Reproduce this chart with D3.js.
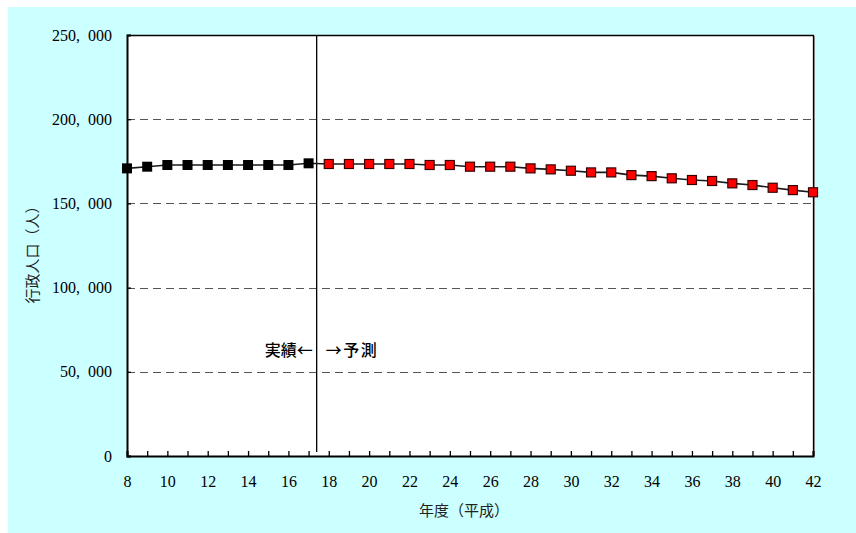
<!DOCTYPE html>
<html>
<head>
<meta charset="utf-8">
<script src="https://cdn.jsdelivr.net/npm/d3@7/dist/d3.min.js"></script>
<style>
  html, body { margin: 0; padding: 0; background: #ffffff; }
  svg { display: block; }
</style>
</head>
<body>
<script>
// 年度（平成）and 行政人口（人）: 実績 H8–H17, 予測 H18–H42
const years = d3.range(8, 43);
const actualYears = [8, 9, 10, 11, 12, 13, 14, 15, 16, 17];
const actualValues = [170800, 171800, 172800, 172800, 172800, 172800, 172800, 172800, 172800, 173800];
const forecastYears = [18, 19, 20, 21, 22, 23, 24, 25, 26, 27, 28, 29, 30, 31, 32, 33, 34, 35, 36, 37, 38, 39, 40, 41, 42];
const forecastValues = [173400, 173400, 173400, 173400, 173400, 172800, 172800, 171800, 171800, 171800,
                        170800, 170200, 169400, 168400, 168400, 166800, 166200, 164900, 163900, 163300,
                        161900, 160900, 159300, 157900, 156600];
const yTicks = [0, 50000, 100000, 150000, 200000, 250000];
const xLabelYears = d3.range(8, 43, 2);
const dividerYear = 17.4;

const W = 856, H = 533;
const plotL = 127, plotR = 813, plotT = 35, plotB = 456;

const svg = d3.select("body").append("svg").attr("width", W).attr("height", H);

svg.append("rect").attr("x", 8).attr("y", 7).attr("width", W - 8).attr("height", H - 7)
  .attr("fill", "#ccffff");

const x = d3.scaleLinear().domain([8, 42]).range([plotL, plotR]);
const y = d3.scaleLinear().domain([0, 250000]).range([plotB, plotT]);

// plot area
svg.append("rect").attr("x", plotL).attr("y", plotT).attr("width", plotR - plotL).attr("height", plotB - plotT)
  .attr("fill", "#ffffff");
svg.append("line").attr("x1", plotR + 1.5).attr("x2", plotR + 1.5).attr("y1", plotT + 1).attr("y2", plotB)
  .attr("stroke", "#9a9a9a").attr("stroke-width", 1);

// dashed gridlines
svg.append("g").selectAll("line").data(yTicks.filter(d => d > 0 && d < 250000)).join("line")
  .attr("x1", plotL).attr("x2", plotR)
  .attr("y1", d => Math.round(y(d)) + 0.5).attr("y2", d => Math.round(y(d)) + 0.5)
  .attr("stroke", "#555").attr("stroke-width", 1).attr("stroke-dasharray", "8,5");

// frame top / right
svg.append("path")
  .attr("d", `M${plotL},${plotT + 0.5}H${plotR + 0.5}V${plotB}`)
  .attr("fill", "none").attr("stroke", "#000").attr("stroke-width", 1.3);

// thousands separator followed by an en space
const fmt = d => d === 0 ? "0" : d3.format(",")(d).replace(",", ",\u2002");

// y axis
const yAxis = d3.axisLeft(y).tickValues(yTicks).tickSize(-4).tickPadding(15).tickFormat(fmt);
const gy = svg.append("g").attr("transform", `translate(${plotL},0)`).call(yAxis);
gy.select(".domain").attr("stroke", "#000").attr("stroke-width", 2);
gy.selectAll(".tick line").attr("stroke", "#000").attr("stroke-width", 1.3);
gy.selectAll(".tick text")
  .attr("font-family", "'Liberation Serif', 'DejaVu Serif', serif")
  .attr("font-size", 16).attr("fill", "#000");

// x axis
const xAxis = d3.axisBottom(x).tickValues(years).tickSize(-5).tickPadding(20)
  .tickFormat(d => xLabelYears.includes(d) ? String(d) : "");
const gx = svg.append("g").attr("transform", `translate(0,${plotB})`).call(xAxis);
gx.select(".domain").attr("stroke", "#000").attr("stroke-width", 2);
gx.selectAll(".tick line").attr("stroke", "#000").attr("stroke-width", 1.3);
gx.selectAll(".tick text")
  .attr("font-family", "'Liberation Serif', 'DejaVu Serif', serif")
  .attr("font-size", 16).attr("fill", "#000");

// divider between 実績 and 予測
svg.append("line").attr("x1", x(dividerYear)).attr("x2", x(dividerYear))
  .attr("y1", plotT).attr("y2", plotB - 4)
  .attr("stroke", "#000").attr("stroke-width", 1.3);

svg.append("text").attr("x", x(dividerYear) - 4).attr("y", 356)
  .attr("text-anchor", "end")
  .attr("font-family", "'Noto Sans CJK JP', sans-serif").attr("font-size", 16).attr("font-weight", 500)
  .text("実績←");
svg.append("text").attr("x", x(dividerYear) + 9).attr("y", 356)
  .attr("text-anchor", "start")
  .attr("font-family", "'Noto Sans CJK JP', sans-serif").attr("font-size", 16).attr("font-weight", 500)
  .attr("letter-spacing", 1.5)
  .text("→予測");

// connecting line through all years
const allPoints = actualYears.map((d, i) => [d, actualValues[i]])
  .concat(forecastYears.map((d, i) => [d, forecastValues[i]]));
svg.append("path").datum(allPoints)
  .attr("d", d3.line().x(d => x(d[0])).y(d => y(d[1])))
  .attr("fill", "none").attr("stroke", "#1a1a1a").attr("stroke-width", 1.6);

// markers
const sz = 10;
svg.append("g").selectAll("rect").data(actualYears).join("rect")
  .attr("x", (d, i) => x(d) - sz / 2).attr("y", (d, i) => y(actualValues[i]) - sz / 2)
  .attr("width", sz).attr("height", sz).attr("fill", "#000");

const rs = 9;
svg.append("g").selectAll("rect").data(forecastYears).join("rect")
  .attr("x", (d, i) => x(d) - rs / 2).attr("y", (d, i) => y(forecastValues[i]) - rs / 2)
  .attr("width", rs).attr("height", rs).attr("fill", "#ff0000")
  .attr("stroke", "#3a0000").attr("stroke-width", 1.2);

// axis titles
svg.append("text")
  .attr("transform", `translate(38,251) rotate(-90)`)
  .attr("text-anchor", "middle")
  .attr("font-family", "'Noto Sans CJK JP', sans-serif").attr("font-size", 15).attr("fill", "#222")
  .text("行政人口（人）");
svg.append("text").attr("x", 464).attr("y", 516)
  .attr("text-anchor", "middle")
  .attr("font-family", "'Noto Sans CJK JP', sans-serif").attr("font-size", 15).attr("fill", "#222")
  .text("年度（平成）");
</script>
</body>
</html>
